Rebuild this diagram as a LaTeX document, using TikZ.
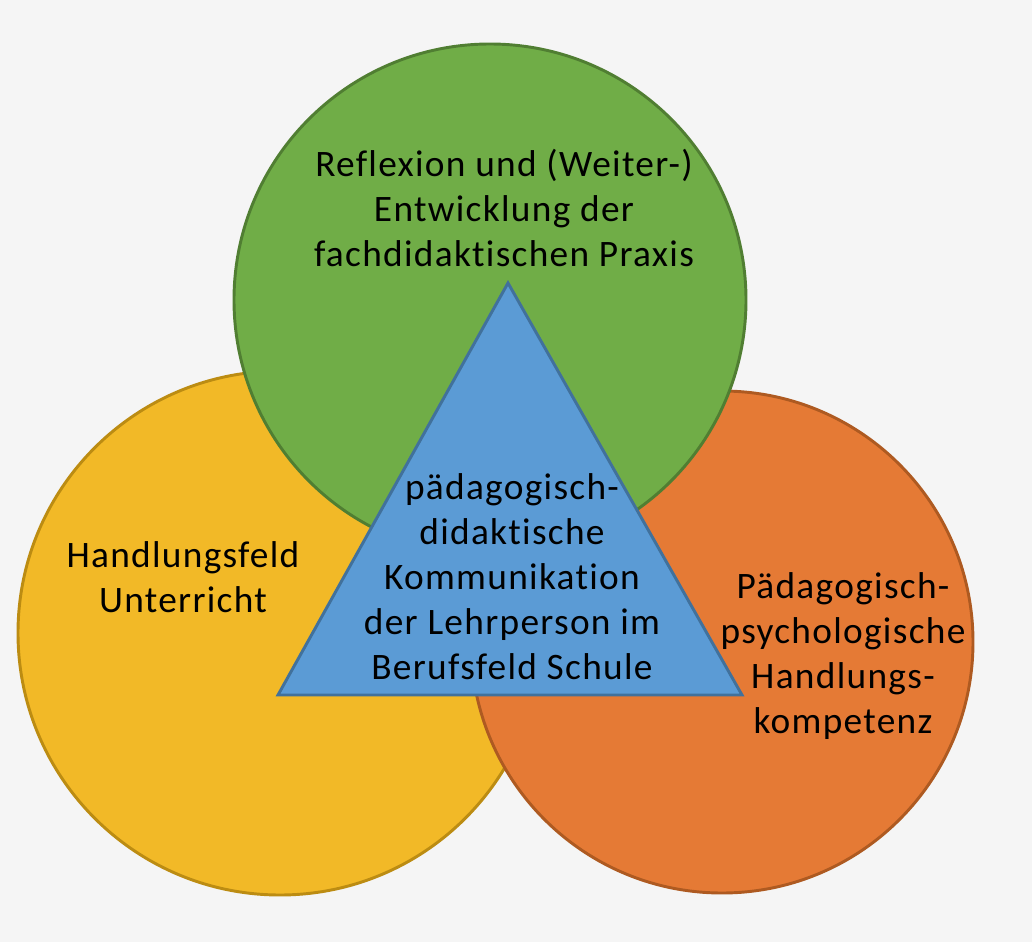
\documentclass[tikz,border=0pt]{standalone}
\usepackage{fontspec}
\setmainfont[LetterSpace=3.5,Ligatures=NoCommon]{Carlito}
\definecolor{bg}{HTML}{F5F5F5}
\definecolor{gfill}{HTML}{70AD47}\definecolor{gdraw}{HTML}{507E32}
\definecolor{yfill}{HTML}{F2B927}\definecolor{ydraw}{HTML}{BC8C12}
\definecolor{ofill}{HTML}{E57A35}\definecolor{odraw}{HTML}{AE5A21}
\definecolor{bfill}{HTML}{5B9BD5}\definecolor{bdraw}{HTML}{41719C}
\begin{document}
\begin{tikzpicture}[x=0.75pt,y=-0.75pt,
  circ/.style={line width=2.2pt},
  lbl/.style={align=center,font=\fontsize{28}{33.8}\selectfont,text=black,inner sep=0pt}]
\useasboundingbox[fill=bg] (0,0) rectangle (1032,942);
\fill[yfill,draw=ydraw,circ] (280,633) circle[radius=262];
\fill[ofill,draw=odraw,circ] (722,642) circle[radius=251];
\fill[gfill,draw=gdraw,circ] (490,300) circle[radius=256];
\coordinate (ta) at (508,283);
\coordinate (tl) at (278,695);
\coordinate (tr) at (742,695);
\fill[bfill,draw=bdraw,line width=2.2pt,line join=miter] (ta) -- (tl) -- (tr) -- cycle;
\node[lbl] (g) at (504,208) {Reflexion und (Weiter-)\\Entwicklung der\\fachdidaktischen Praxis};
\node[lbl] (y) at (183,577) {Handlungsfeld\\Unterricht};
\node[lbl] (o) at (843,656) {Pädagogisch-\\psychologische\\Handlungs-\\kompetenz};
\node[lbl] (t) at (512,577) {pädagogisch-\\didaktische\\Kommunikation\\der Lehrperson im\\Berufsfeld Schule};
\end{tikzpicture}
\end{document}
